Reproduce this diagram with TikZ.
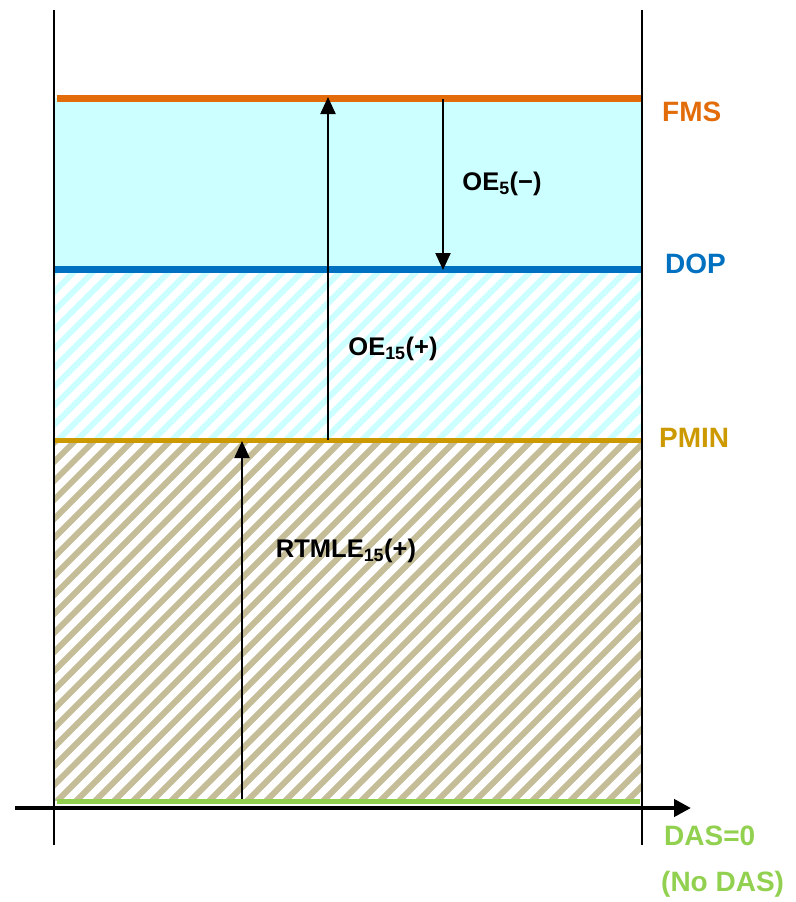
\documentclass[tikz,border=0pt]{standalone}
\usepackage{fontspec}
\setmainfont{Liberation Sans}
\usetikzlibrary{arrows.meta}
\definecolor{fmsc}{RGB}{227,108,10}
\definecolor{dopc}{RGB}{0,112,192}
\definecolor{pminc}{RGB}{204,153,0}
\definecolor{dasc}{RGB}{146,208,80}
\definecolor{cyanfill}{RGB}{204,255,255}
\definecolor{tanc}{RGB}{196,189,151}
\tikzset{
  levelline/.style={line width=7pt},
  vline/.style={line width=1.6pt, black},
  updown/.style={line width=2.2pt, black, -{Triangle[width=15pt,length=17pt]}},
  axisline/.style={line width=4.5pt, black, -{Triangle[width=17pt,length=17pt]}},
  outerlabel/.style={font=\fontsize{28}{32}\selectfont\bfseries, anchor=west, inner sep=0pt},
  innerlabel/.style={font=\fontsize{25.5}{29}\selectfont\bfseries, inner sep=0pt},
}
\begin{document}
\begin{tikzpicture}[x=1pt,y=-1pt]
\useasboundingbox (0,0) rectangle (795,902);
% regions
\fill[cyanfill] (55,98) rectangle (641,269);
\begin{scope}
  \clip (55,269) rectangle (641,440);
  \foreach \i in {-15,...,40}
    \draw[cyanfill, line width=6pt] (\i*19,460) -- ++(220,-220);
\end{scope}
\begin{scope}
  \clip (55,440) rectangle (641,800);
  \foreach \i in {-30,...,40}
    \draw[tanc, line width=6pt] (\i*19,820) -- ++(400,-400);
\end{scope}
% coordinates
\coordinate (lt) at (54,10);
\coordinate (lb) at (54,845);
\coordinate (rt) at (642,10);
\coordinate (rb) at (642,845);
\coordinate (fmsL) at (57,98);
\coordinate (fmsR) at (641,98);
\coordinate (dopL) at (54,269);
\coordinate (dopR) at (641,269);
\coordinate (pminL) at (55,440);
\coordinate (pminR) at (641,440);
\coordinate (dasL) at (57,801);
\coordinate (dasR) at (640,801);
\coordinate (axL) at (15,808);
\coordinate (axR) at (691,808);
% level lines
\draw[levelline, fmsc] (fmsL) -- (fmsR);
\draw[levelline, dopc] (dopL) -- (dopR);
\draw[line width=5pt, pminc] (pminL) -- (pminR);
\draw[line width=5pt, dasc] (dasL) -- (dasR);
% frame verticals
\draw[vline] (lt) -- (lb);
\draw[vline] (rt) -- (rb);
% axis
\draw[axisline] (axL) -- (axR);
% arrows
\coordinate (a1s) at (328,440);
\coordinate (a1e) at (328,97);
\coordinate (a2s) at (443,99);
\coordinate (a2e) at (443,270);
\coordinate (a3s) at (242,799);
\coordinate (a3e) at (242,441);
\draw[updown] (a1s) -- (a1e);
\draw[updown] (a2s) -- (a2e);
\draw[updown] (a3s) -- (a3e);
% labels
\node[outerlabel, text=fmsc] (fms) at (662,112) {FMS};
\node[outerlabel, text=dopc] (dop) at (665,264) {DOP};
\node[outerlabel, text=pminc] (pmin) at (659,438) {PMIN};
\node[outerlabel, text=dasc] (das) at (664,836) {DAS=0};
\node[outerlabel, text=dasc] (nodas) at (661,884) {(No DAS)};
\node[innerlabel] (oe5) at (502,184) {OE\textsubscript{5}({−})};
\node[innerlabel] (oe15) at (393,349) {OE\textsubscript{15}(+)};
\node[innerlabel] (rtmle) at (346,551) {RTMLE\textsubscript{15}(+)};
\end{tikzpicture}
\end{document}
